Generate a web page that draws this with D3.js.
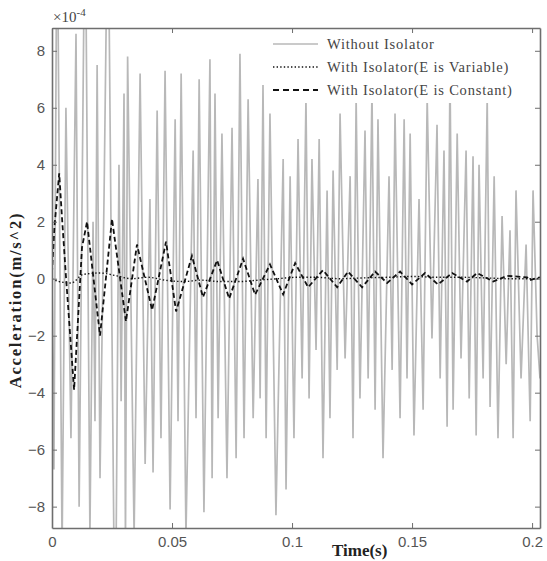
<!DOCTYPE html>
<html><head><meta charset="utf-8">
<script src="https://cdn.jsdelivr.net/npm/d3@7"></script>
<style>body{margin:0;background:#fff}</style>
</head><body>
<svg id="c" width="547" height="561"></svg>
<script>
// ---- data ----
const xTicks = [0, 0.05, 0.1, 0.15, 0.2];
const xTickLabels = ["0", "0.05", "0.1", "0.15", "0.2"];
const yTicks = [-8, -6, -4, -2, 0, 2, 4, 6, 8];
const seriesNames = ["Without Isolator", "With Isolator(E is Variable)", "With Isolator(E is Constant)"];

// Without isolator (time in ms, acceleration x1e-4)
const grayTimeMs = [0,0.8,2.1,4.2,5.8,7.9,10.0,11.3,13.8,15.8,17.1,17.9,18.8,20.0,21.7,23.3,25.0,26.3,27.9,28.8,30.0,30.6,31.5,34.2,36.7,38.8,40.8,42.1,43.8,45.4,47.1,49.2,51.3,52.5,53.8,55.8,58.8,60.0,61.3,63.3,65.8,66.7,67.9,69.2,70.8,72.9,75.0,76.7,78.3,80.0,81.7,83.8,85.8,86.7,87.9,89.2,90.8,93.3,96.3,97.5,99.2,100.8,102.5,104.2,105.8,107.1,108.3,110.0,111.3,112.9,114.6,115.8,117.1,118.8,120.0,122.1,124.2,125.4,126.7,128.3,130.4,131.7,133.3,134.6,135.8,137.9,140.4,141.7,142.9,145.0,146.7,147.9,149.2,150.8,152.9,154.6,156.3,158.3,160.4,161.7,163.3,164.6,165.8,167.1,168.8,170.4,172.5,173.8,175.4,176.7,177.9,179.6,181.3,182.5,184.2,185.8,187.5,189.2,190.8,192.1,193.3,195.4,197.5,199.2,200.4,202.1,203.3];
const grayValues = [0,-6.7,14,-9.5,6.0,-5.6,8.6,-8.0,14,-9.0,2.0,-5.0,7.5,-7.0,3.0,14,-2.0,-14,4.0,-4.3,6.5,-9.5,7.8,-9.0,7.2,-6.5,2.8,-6.8,5.9,-5.6,7.3,-8.1,5.6,-5.0,7.2,-9.0,4.5,-4.9,7.0,-8.2,7.7,-7.0,6.5,-4.9,5.1,-7.0,5.3,-6.3,7.9,-5.6,6.3,-4.9,3.5,-4.2,6.8,-5.6,5.8,-8.3,4.2,-7.4,3.6,-5.6,4.9,-3.5,6.3,-4.2,4.2,-2.5,4.9,-6.3,3.1,-4.9,3.8,-3.2,5.8,-2.8,3.6,-5.6,6.3,-4.2,5.2,-3.5,6.6,-4.6,5.6,-6.3,3.6,-3.2,5.8,-4.9,5.6,-3.5,5.1,-5.5,2.8,-4.6,6.3,-2.1,5.4,-3.5,4.5,-5.2,7.2,-4.6,5.1,-2.8,4.5,-4.2,4.3,-5.5,4.0,-3.5,6.3,-4.5,3.6,-5.6,2.2,-3.0,1.7,-5.6,3.1,-3.5,1.2,-5.0,3.1,-2.0,-3.5];

// With isolator, E variable
const varTimeMs = [0,3,8,13,20,27,33,40,47,55,62,70,78,86,94,102,110,120,130,140,150,160,170,180,190,203.3];
const varValues = [0,-0.1,-0.15,0.15,0.2,0.1,0.0,0.05,-0.05,-0.1,-0.05,-0.1,-0.1,-0.05,0.0,0.05,0.05,0.0,0.03,0.05,0.08,0.05,0.05,0.03,0.0,0.0];

// With isolator, E constant
const constTimeMs = [0,1.0,3.0,4.2,5.8,9.2,12.5,14.6,20.0,25.0,30.8,35.4,41.7,47.5,51.7,58.3,62.9,68.8,73.8,79.6,84.6,90.8,96.3,101.3,106.7,112.9,118.8,123.3,129.2,134.6,139.6,145.0,150.0,155.4,160.8,166.7,172.9,177.1,183.8,189.6,197.9,199.0,203.3];
const constValues = [0.2,1.8,3.7,2.1,0.1,-3.9,1.1,2.0,-2.0,2.1,-1.5,1.2,-1.1,1.3,-1.15,0.8,-0.65,0.65,-0.7,0.7,-0.56,0.5,-0.55,0.55,-0.3,0.3,-0.3,0.25,-0.3,0.25,-0.15,0.25,-0.2,0.2,-0.2,0.2,-0.1,0.2,-0.1,0.1,0.05,-0.05,0.05];

// ---- chart ----
const svg = d3.select("#c");
const L = 52, R = 540, T = 28, B = 528;
const x = d3.scaleLinear().domain([0, 0.2033]).range([L, R]);
const y = d3.scaleLinear().domain([-8.75, 8.8]).range([B, T]);

svg.append("defs").append("clipPath").attr("id", "pc")
  .append("rect").attr("x", L).attr("y", T).attr("width", R - L).attr("height", B - T);

const zip = (ts, vs) => ts.map((t, i) => [t / 1000, vs[i]]);
const line = d3.line().x(d => x(d[0])).y(d => y(d[1]));

const g = svg.append("g").attr("clip-path", "url(#pc)");
g.append("path").datum(zip(grayTimeMs, grayValues)).attr("d", line)
  .attr("fill", "none").attr("stroke", "#b8b8b8").attr("stroke-width", 1.7);
g.append("path").datum(zip(varTimeMs, varValues)).attr("d", d3.line().curve(d3.curveMonotoneX).x(d => x(d[0])).y(d => y(d[1])))
  .attr("fill", "none").attr("stroke", "#111").attr("stroke-width", 1.4).attr("stroke-dasharray", "1.4,2.2");
g.append("path").datum(zip(constTimeMs, constValues)).attr("d", line)
  .attr("fill", "none").attr("stroke", "#111").attr("stroke-width", 1.8).attr("stroke-dasharray", "5,3");

// legend
const leg = svg.append("g");
leg.append("rect").attr("x", 267).attr("y", T + 1).attr("width", R - 268).attr("height", 74).attr("fill", "#fff");
const legY = [44, 67, 90];
const legStyles = [
  {stroke: "#b8b8b8", w: 1.7, dash: null},
  {stroke: "#111", w: 1.4, dash: "1.4,2.2"},
  {stroke: "#111", w: 1.8, dash: "6,4"}
];
seriesNames.forEach((name, i) => {
  leg.append("line").attr("x1", 273).attr("x2", 318).attr("y1", legY[i]).attr("y2", legY[i])
    .attr("stroke", legStyles[i].stroke).attr("stroke-width", legStyles[i].w)
    .attr("stroke-dasharray", legStyles[i].dash);
  leg.append("text").attr("x", 327).attr("y", legY[i] + 5).text(name)
    .attr("font-family", "Liberation Serif, Times New Roman, serif").attr("font-size", 14.5)
    .attr("letter-spacing", 0.8).attr("fill", "#444");
});

// axes
const axCol = "#6e6e6e";
function style(sel) {
  sel.select(".domain").attr("stroke", axCol).attr("stroke-width", 1.6);
  sel.selectAll(".tick line").attr("stroke", axCol).attr("stroke-width", 1);
  sel.selectAll(".tick text").attr("fill", "#555")
    .attr("font-family", "Liberation Sans, Arial, sans-serif").attr("font-size", 15);
}
svg.append("g").attr("transform", `translate(0,${B})`)
  .call(d3.axisBottom(x).tickValues(xTicks).tickFormat((d, i) => xTickLabels[i]).tickSizeInner(-5).tickSizeOuter(0).tickPadding(8))
  .call(style);
svg.append("g").attr("transform", `translate(0,${T})`)
  .call(d3.axisTop(x).tickValues(xTicks).tickFormat("").tickSizeInner(-5).tickSizeOuter(0))
  .call(style);
svg.append("g").attr("transform", `translate(${L},0)`)
  .call(d3.axisLeft(y).tickValues(yTicks).tickFormat(d3.format("d")).tickSizeInner(-5).tickSizeOuter(0).tickPadding(7))
  .call(style);
svg.append("g").attr("transform", `translate(${R},0)`)
  .call(d3.axisRight(y).tickValues(yTicks).tickFormat("").tickSizeInner(-5).tickSizeOuter(0))
  .call(style);

// exponent label
const ex = svg.append("text").attr("x", 53).attr("y", 22)
  .attr("font-family", "Liberation Serif, Times New Roman, serif").attr("font-size", 15).attr("fill", "#444");
ex.append("tspan").text("×10");
ex.append("tspan").attr("dy", -6).attr("font-size", 11).text("-4");

// axis titles
svg.append("text").attr("x", 332).attr("y", 556).text("Time(s)")
  .attr("font-family", "Liberation Serif, Times New Roman, serif").attr("font-weight", "bold")
  .attr("font-size", 17).attr("fill", "#222");
svg.append("text").attr("transform", "translate(21,300) rotate(-90)").attr("text-anchor", "middle")
  .text("Acceleration(m/s^2)")
  .attr("font-family", "Liberation Serif, Times New Roman, serif").attr("font-weight", "bold")
  .attr("font-size", 16.5).attr("letter-spacing", 1.8).attr("fill", "#222");
</script>
</body></html>
